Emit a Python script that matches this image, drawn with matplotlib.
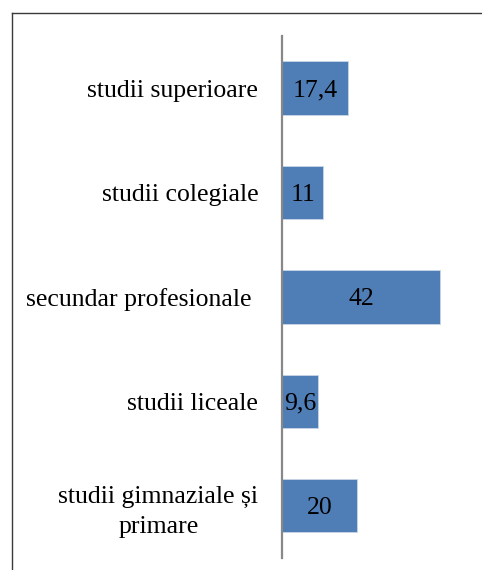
import matplotlib.pyplot as plt
from matplotlib.lines import Line2D

categories = [
    "studii superioare",
    "studii colegiale",
    "secundar profesionale ",
    "studii liceale",
    "studii gimnaziale și\nprimare",
]
values = [17.4, 11, 42, 9.6, 20]
value_labels = ["17,4", "11", "42", "9,6", "20"]

plt.rcParams['font.family'] = ['Liberation Serif', 'DejaVu Serif']

fig = plt.figure(figsize=(4.82, 5.70), dpi=100)
ax = fig.add_axes([0.585, 0.021, 0.391, 0.916])

pos = list(range(len(categories)))
bars = ax.barh(pos, values, height=0.51, color='#4F7DB5', edgecolor='#C9D6E8', linewidth=0.6)
ax.set_ylim(len(categories) - 0.5, -0.5)
ax.set_xlim(0, 50)

for bar, lab in zip(bars, value_labels):
    ax.text(bar.get_width() / 2, bar.get_y() + bar.get_height() / 2 + 0.02, lab,
            ha='center', va='center', fontsize=18.5, color='black')

ax.set_yticks(pos)
ax.set_yticklabels(categories, fontsize=18.5, linespacing=1.45)
for t in ax.get_yticklabels():
    t.set_multialignment('center')
ax.tick_params(axis='y', length=0, pad=17)
ax.set_xticks([])

for side in ['top', 'right', 'bottom']:
    ax.spines[side].set_visible(False)
ax.spines['left'].set_color('#888888')
ax.spines['left'].set_linewidth(1.6)

# outer frame (top and left only, like the cropped source)
fig.add_artist(Line2D([11.5 / 482, 1.0], [1 - 12.5 / 570] * 2, color='#3a3a3a', linewidth=1.0,
                      transform=fig.transFigure))
fig.add_artist(Line2D([11.5 / 482] * 2, [0.0, 1 - 12.5 / 570], color='#3a3a3a', linewidth=1.0,
                      transform=fig.transFigure))

fig.savefig('out.png', dpi=100)
